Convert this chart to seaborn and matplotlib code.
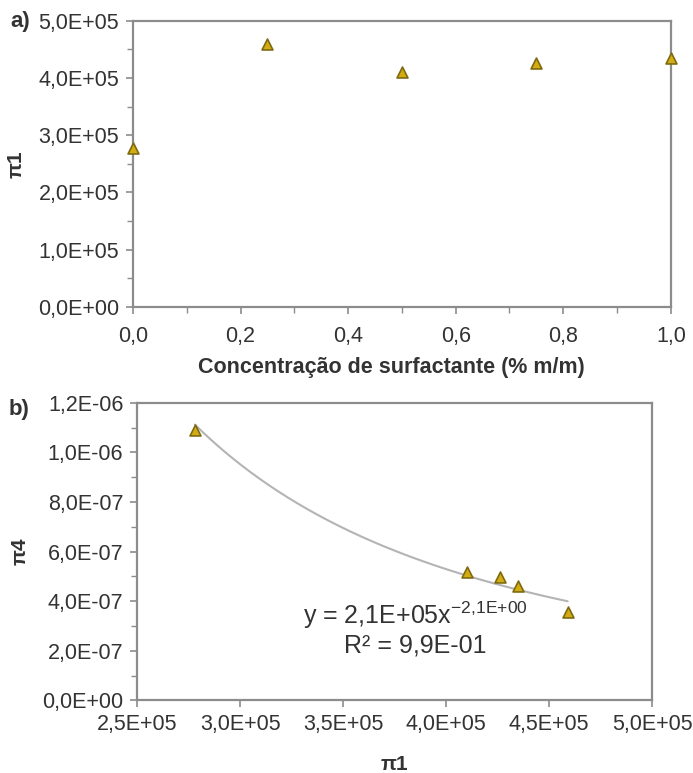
import numpy as np
import pandas as pd
import matplotlib
matplotlib.use("Agg")
import matplotlib.pyplot as plt
from matplotlib.ticker import FuncFormatter, MultipleLocator
import seaborn as sns

# Surfactant concentration (% m/m) and the dimensionless groups
concentracao = [0.0, 0.25, 0.5, 0.75, 1.0]
pi1 = [2.78e5, 4.59e5, 4.10e5, 4.26e5, 4.35e5]
pi4 = [1.09e-6, 3.58e-7, 5.17e-7, 4.97e-7, 4.62e-7]

sns.set_style("ticks")
plt.rcParams["font.family"] = ["Liberation Sans", "DejaVu Sans"]

spine_color = "#8c8c8c"
text_color = "#333333"
marker_face = "#d2ac10"
marker_edge = "#7d6a12"

fig = plt.figure(figsize=(6.93, 7.73), dpi=100)
ax1 = fig.add_axes([0.192, 0.603, 0.776, 0.370])
ax2 = fig.add_axes([0.198, 0.094, 0.743, 0.385])

sci = FuncFormatter(lambda v, p: f"{v:.1E}".replace(".", ","))
dec = FuncFormatter(lambda v, p: f"{v:.1f}".replace(".", ","))


def style_axes(ax, xpad):
    for s in ax.spines.values():
        s.set_color(spine_color)
        s.set_linewidth(1.6)
    ax.tick_params(which="major", direction="out", length=5, width=1.2,
                   color=spine_color, labelsize=15.5, labelcolor=text_color,
                   top=False, right=False)
    ax.tick_params(which="minor", direction="out", length=4, width=1.0,
                   color=spine_color, top=False, right=False)
    ax.tick_params(axis="x", which="major", pad=xpad)
    ax.tick_params(axis="y", which="major", pad=5)


# (a) pi1 versus surfactant concentration
df1 = pd.DataFrame({"c": concentracao, "pi1": pi1})
sns.scatterplot(data=df1, x="c", y="pi1", ax=ax1, marker="^", s=62,
                color=marker_face, edgecolor=marker_edge, linewidth=1.2,
                clip_on=False, zorder=5)
ax1.set_xlim(0, 1.0)
ax1.set_ylim(0, 5e5)
ax1.xaxis.set_major_locator(MultipleLocator(0.2))
ax1.xaxis.set_minor_locator(MultipleLocator(0.1))
ax1.yaxis.set_major_locator(MultipleLocator(1e5))
ax1.yaxis.set_minor_locator(MultipleLocator(0.5e5))
ax1.xaxis.set_major_formatter(dec)
ax1.yaxis.set_major_formatter(sci)
style_axes(ax1, xpad=9)
ax1.set_xlabel("Concentração de surfactante (% m/m)", fontsize=15.5,
               fontweight="bold", color=text_color, labelpad=8)
ax1.xaxis.set_label_coords(0.48, -0.175)
ax1.set_ylabel("π1", fontsize=15, fontweight="bold", color=text_color,
               labelpad=9)

# (b) pi4 versus pi1 with a power-law trend line
df2 = pd.DataFrame({"pi1": pi1, "pi4": pi4})
b, ln_a = np.polyfit(np.log(pi1), np.log(pi4), 1)
xs = np.linspace(min(pi1), max(pi1), 200)
fit = pd.DataFrame({"pi1": xs, "pi4": np.exp(ln_a) * xs ** b})
sns.lineplot(data=fit, x="pi1", y="pi4", ax=ax2, color="#b4b4b4",
             linewidth=1.5, zorder=3)
sns.scatterplot(data=df2, x="pi1", y="pi4", ax=ax2, marker="^", s=62,
                color=marker_face, edgecolor=marker_edge, linewidth=1.2,
                clip_on=False, zorder=5)
ax2.set_xlim(2.5e5, 5.0e5)
ax2.set_ylim(0, 1.2e-6)
ax2.xaxis.set_major_locator(MultipleLocator(0.5e5))
ax2.yaxis.set_major_locator(MultipleLocator(2e-7))
ax2.yaxis.set_minor_locator(MultipleLocator(1e-7))
ax2.xaxis.set_major_formatter(sci)
ax2.yaxis.set_major_formatter(sci)
ax2.yaxis.get_offset_text().set_visible(False)
ax2.xaxis.get_offset_text().set_visible(False)
style_axes(ax2, xpad=5)
ax2.set_xlabel("π1", fontsize=15, fontweight="bold", color=text_color,
               labelpad=14)
ax2.set_ylabel("π4", fontsize=15, fontweight="bold", color=text_color,
               labelpad=9)

ax2.text(3.85e5, 3.43e-7,
         r"y = 2,1E+05x$^{\mathregular{-2{,}1E{+}00}}$",
         fontsize=18, color=text_color, ha="center", va="center")
ax2.text(3.85e5, 2.22e-7, "R² = 9,9E-01", fontsize=18, color=text_color,
         ha="center", va="center")

fig.text(10 / 693, 1 - 22 / 773, "a)", fontsize=16, fontweight="bold",
         color=text_color, ha="left", va="center")
fig.text(9 / 693, 1 - 410 / 773, "b)", fontsize=16, fontweight="bold",
         color=text_color, ha="left", va="center")

fig.savefig("out.png", dpi=100, facecolor="white")
